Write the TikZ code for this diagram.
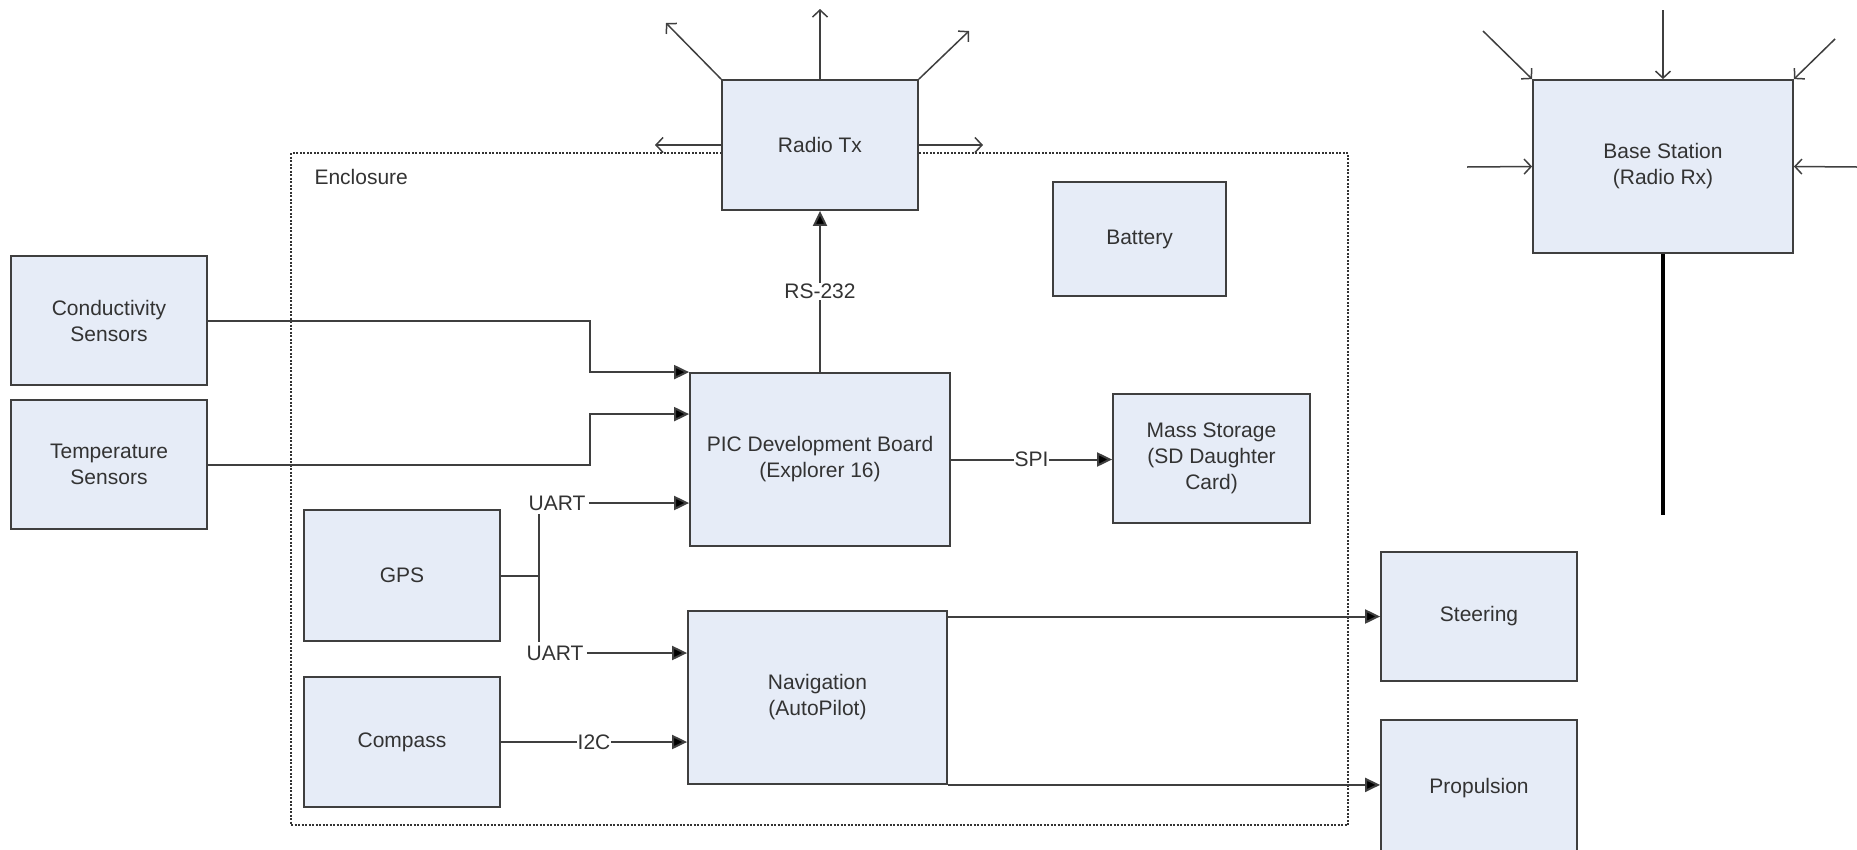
\documentclass[tikz,border=0pt]{standalone}
\usepackage{fontspec}
\setmainfont{Liberation Sans}
\usetikzlibrary{arrows.meta}
\definecolor{boxfill}{HTML}{E6ECF7}
\definecolor{boxline}{HTML}{3F3F3F}
\definecolor{txtgray}{HTML}{333333}

\begin{document}
\begin{tikzpicture}[x=1pt, y=-1pt, >={Triangle[length=15pt,width=14pt,fill=black]},
    font=\fontsize{21}{26}\selectfont, text=txtgray,
    block/.style={draw=boxline, fill=boxfill, line width=1.8pt, align=center, inner sep=0pt},
    wire/.style={draw=boxline, line width=2pt},
    tag/.style={fill=white, inner sep=1pt},
    wave/.style={draw=boxline, line width=1.5pt, -{Straight Barb[length=7pt,width=15pt]}}]
    \useasboundingbox (0,0) rectangle (1857,849);

    % enclosure
    \node[draw=txtgray, line width=1.2pt, dash pattern=on 2pt off 1.5pt,
          minimum width=1057pt, minimum height=672pt, inner sep=0pt] (encl) at (819.5,489) {};
    \node[anchor=west] (encltxt) at (311,177) {Enclosure};

    % blocks
    \node[block, minimum width=196pt, minimum height=129pt] (cond) at (109,320.5) {Conductivity\\Sensors};
    \node[block, minimum width=196pt, minimum height=129pt] (temp) at (109,464.5) {Temperature\\Sensors};
    \node[block, minimum width=196pt, minimum height=130pt] (radio) at (820,145) {Radio Tx};
    \node[block, minimum width=173pt, minimum height=114pt] (batt) at (1139.5,239) {Battery};
    \node[block, minimum width=260pt, minimum height=173pt] (pic) at (820,459.5) {PIC Development Board\\(Explorer 16)};
    \node[block, minimum width=197pt, minimum height=129pt] (mass) at (1211.5,458.5) {Mass Storage\\(SD Daughter\\Card)};
    \node[block, minimum width=196pt, minimum height=131pt] (gps) at (402,575.5) {GPS};
    \node[block, minimum width=196pt, minimum height=130pt] (comp) at (402,742) {Compass};
    \node[block, minimum width=259pt, minimum height=173pt] (nav) at (817.5,697.5) {Navigation\\(AutoPilot)};
    \node[block, minimum width=196pt, minimum height=129pt] (steer) at (1479,616.5) {Steering};
    \node[block, minimum width=196pt, minimum height=136pt] (prop) at (1479,788) {Propulsion};
    \node[block, minimum width=260pt, minimum height=173pt] (base) at (1663,166.5) {Base Station\\(Radio Rx)};

    % sensor inputs
    \coordinate (bend) at (590,0);
    \coordinate (tin) at ([yshift=-42pt]pic.north west);
    \draw[wire, ->] (cond.east) -| (bend |- pic.north west) -- (pic.north west);
    \draw[wire, ->] (temp.east) -| (bend |- tin) -- (tin);

    % GPS split
    \node (uart1) at (557,503) {UART};
    \node (uart2) at (555,653) {UART};
    \coordinate (jn) at (539,0);
    \draw[wire] (gps.east) -- (gps.east -| jn);
    \draw[wire] (jn |- uart1.south) -- (jn |- uart2.north);
    \draw[wire, ->] (uart1.east) -- (uart1.east -| pic.west);
    \draw[wire, ->] (uart2.east) -- (uart2.east -| nav.west);
    \draw[wire, ->] (comp.east) -- (comp.east -| nav.west) node[tag, midway] (i2c) {I2C};

    % board links
    \draw[wire, ->] (pic.north) -- (radio.south) node[tag, midway] (rs) {RS-232};
    \draw[wire, ->] (pic.east) -- (pic.east -| mass.west) node[tag, midway] (spi) {SPI};
    \draw[wire, ->] (steer.west -| nav.east) -- (steer.west);
    \draw[wire, ->] (nav.south east) -- (nav.south east -| prop.west);

    % radio waves
    \foreach \a/\b in {north west/{666,23}, north/{820,9}, north east/{969,31}, west/{655,145}, east/{983,145}}
        \draw[wave] (radio.\a) -- (\b);
    \foreach \a/\b in {north west/{1483,31}, north/{1663,10}, north east/{1835,39}, west/{1467,167}, east/{1857,167}}
        \draw[wave] (\b) -- (base.\a);
    \coordinate (mast) at (1663,515);
    \draw[draw=black, line width=4.5pt] (base.south) -- (mast);
\end{tikzpicture}
\end{document}
